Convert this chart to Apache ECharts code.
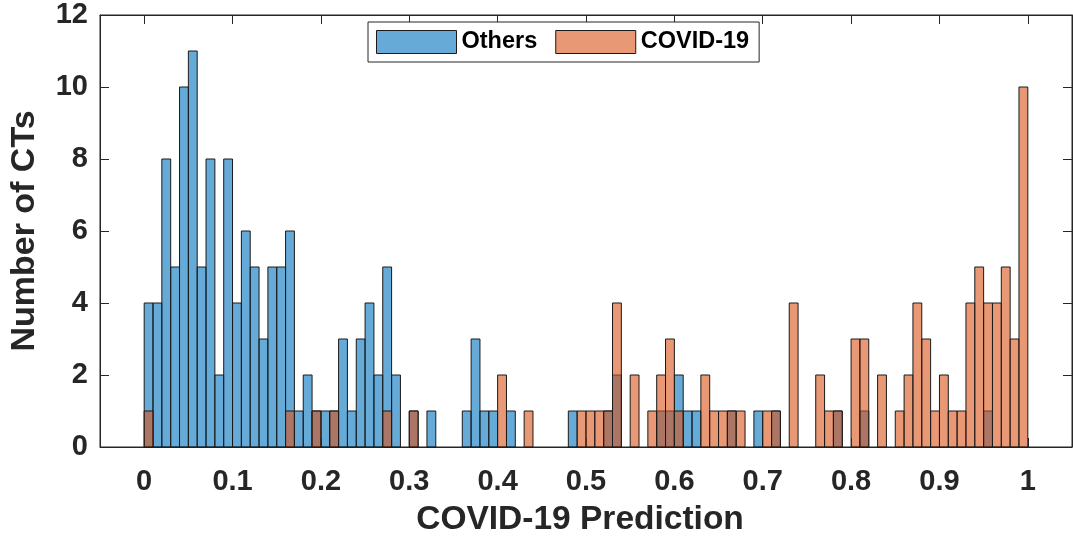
<!DOCTYPE html>
<html>
<head>
<meta charset="utf-8">
<title>COVID-19 Prediction histogram</title>
<script src="https://cdn.jsdelivr.net/npm/echarts@6/dist/echarts.min.js"></script>
<style>
  html, body { margin: 0; padding: 0; background: #fff; }
  #chart { width: 1073px; height: 545px; }
</style>
</head>
<body>
<div id="chart"></div>
<script>
// histogram counts, one value per bin of width 0.01 (0 .. 1)
var binWidth = 0.01;
var othersCounts = [
  4, 4, 8, 5, 10, 11, 5, 8, 2, 8,
  4, 6, 5, 3, 5, 5, 6, 1, 2, 1,
  1, 1, 3, 1, 3, 4, 2, 5, 2, 0,
  1, 0, 1, 0, 0, 0, 1, 3, 1, 1,
  0, 1, 0, 0, 0, 0, 0, 0, 1, 0,
  0, 0, 1, 2, 0, 0, 0, 0, 1, 1,
  2, 1, 1, 0, 0, 0, 1, 0, 0, 1,
  0, 1, 0, 0, 0, 0, 0, 0, 1, 0,
  0, 1, 0, 0, 0, 0, 0, 0, 0, 0,
  0, 0, 0, 0, 0, 1, 0, 0, 0, 0
];
var covidCounts = [
  1, 0, 0, 0, 0, 0, 0, 0, 0, 0,
  0, 0, 0, 0, 0, 0, 1, 0, 0, 1,
  0, 1, 0, 0, 0, 0, 0, 1, 0, 0,
  1, 0, 0, 0, 0, 0, 0, 0, 0, 0,
  2, 0, 0, 1, 0, 0, 0, 0, 0, 1,
  1, 1, 1, 4, 0, 2, 0, 1, 2, 3,
  1, 0, 0, 2, 1, 1, 1, 1, 0, 0,
  1, 1, 0, 4, 0, 0, 2, 1, 1, 0,
  3, 3, 0, 2, 0, 1, 2, 4, 3, 1,
  2, 1, 1, 4, 5, 4, 4, 5, 3, 10
];
var xTicks = [0, 0.1, 0.2, 0.3, 0.4, 0.5, 0.6, 0.7, 0.8, 0.9, 1];
var xTickLabels = ['0', '0.1', '0.2', '0.3', '0.4', '0.5', '0.6', '0.7', '0.8', '0.9', '1'];
var seriesNames = ['Others', 'COVID-19'];

var axisColor = '#262626';
var fontFamily = '"Liberation Sans", Arial, Helvetica, sans-serif';

// [binStart, binEnd, count]
function toBins(counts) {
  var out = [];
  for (var i = 0; i < counts.length; i++) {
    if (counts[i] > 0) {
      out.push([i * binWidth, (i + 1) * binWidth, counts[i]]);
    }
  }
  return out;
}

function renderBar(params, api) {
  var p0 = api.coord([api.value(0), 0]);
  var p1 = api.coord([api.value(1), api.value(2)]);
  return {
    type: 'rect',
    shape: { x: p0[0], y: p1[1], width: p1[0] - p0[0], height: p0[1] - p1[1] },
    style: {
      fill: api.visual('color'),
      stroke: '#1a1a1a',
      lineWidth: 1
    }
  };
}

function tickLabel(v) {
  for (var i = 0; i < xTicks.length; i++) {
    if (Math.abs(xTicks[i] - v) < 1e-6) return xTickLabels[i];
  }
  return '';
}

var chart = echarts.init(document.getElementById('chart'));

var option = {
  animation: false,
  textStyle: { fontFamily: fontFamily },
  // box around the plot area, like matlab's "box on"
  grid: { left: 100, top: 15, right: 1, bottom: 98, show: true, borderColor: axisColor, borderWidth: 1, backgroundColor: 'transparent' },
  legend: {
    data: seriesNames,
    left: 368,
    top: 22,
    padding: [8, 10, 8, 8],
    itemWidth: 80,
    itemHeight: 23,
    itemGap: 18,
    icon: 'rect',
    borderColor: axisColor,
    borderWidth: 1,
    backgroundColor: '#fff',
    itemStyle: { borderColor: '#1a1a1a', borderWidth: 1 },
    textStyle: { color: '#000', fontSize: 23.5, fontWeight: 'bold', fontFamily: fontFamily }
  },
  xAxis: [
    {
      type: 'value',
      min: -0.05,
      max: 1.05,
      name: 'COVID-19 Prediction',
      nameLocation: 'middle',
      nameGap: 56,
      nameTextStyle: { color: axisColor, fontSize: 33.5, fontWeight: 'bold', fontFamily: fontFamily, padding: [0, 12, 0, 0] },
      axisLine: { show: true, onZero: false, lineStyle: { color: axisColor, width: 1 } },
      axisTick: { show: true, inside: true, length: 9, customValues: xTicks, lineStyle: { color: axisColor } },
      axisLabel: {
        customValues: xTicks,
        formatter: tickLabel,
        margin: 20,
        color: axisColor,
        fontSize: 29,
        fontWeight: 'bold',
        fontFamily: fontFamily
      },
      splitLine: { show: false }
    },
    {
      // top edge of the box
      type: 'value',
      position: 'top',
      min: -0.05,
      max: 1.05,
      axisLine: { show: true, onZero: false, lineStyle: { color: axisColor, width: 1 } },
      axisTick: { show: true, inside: true, length: 9, customValues: xTicks, lineStyle: { color: axisColor } },
      axisLabel: { show: false },
      splitLine: { show: false }
    }
  ],
  yAxis: [
    {
      type: 'value',
      min: 0,
      max: 12,
      interval: 2,
      name: 'Number of CTs',
      nameLocation: 'middle',
      nameGap: 58,
      nameTextStyle: { color: axisColor, fontSize: 34, fontWeight: 'bold', fontFamily: fontFamily },
      axisLine: { show: true, onZero: false, lineStyle: { color: axisColor, width: 1 } },
      axisTick: { show: true, inside: true, length: 9, lineStyle: { color: axisColor } },
      axisLabel: { margin: 12, color: axisColor, fontSize: 29, fontWeight: 'bold', fontFamily: fontFamily },
      splitLine: { show: false }
    },
    {
      // right edge of the box
      type: 'value',
      position: 'right',
      min: 0,
      max: 12,
      interval: 2,
      axisLine: { show: true, onZero: false, lineStyle: { color: axisColor, width: 1 } },
      axisTick: { show: true, inside: true, length: 9, lineStyle: { color: axisColor } },
      axisLabel: { show: false },
      splitLine: { show: false }
    }
  ],
  series: [
    {
      name: seriesNames[0],
      type: 'custom',
      renderItem: renderBar,
      itemStyle: { color: 'rgba(0,114,189,0.6)' },
      encode: { x: [0, 1], y: 2 },
      data: toBins(othersCounts)
    },
    {
      name: seriesNames[1],
      type: 'custom',
      renderItem: renderBar,
      itemStyle: { color: 'rgba(217,83,25,0.6)' },
      encode: { x: [0, 1], y: 2 },
      data: toBins(covidCounts)
    }
  ]
};

chart.setOption(option);
</script>
</body>
</html>
